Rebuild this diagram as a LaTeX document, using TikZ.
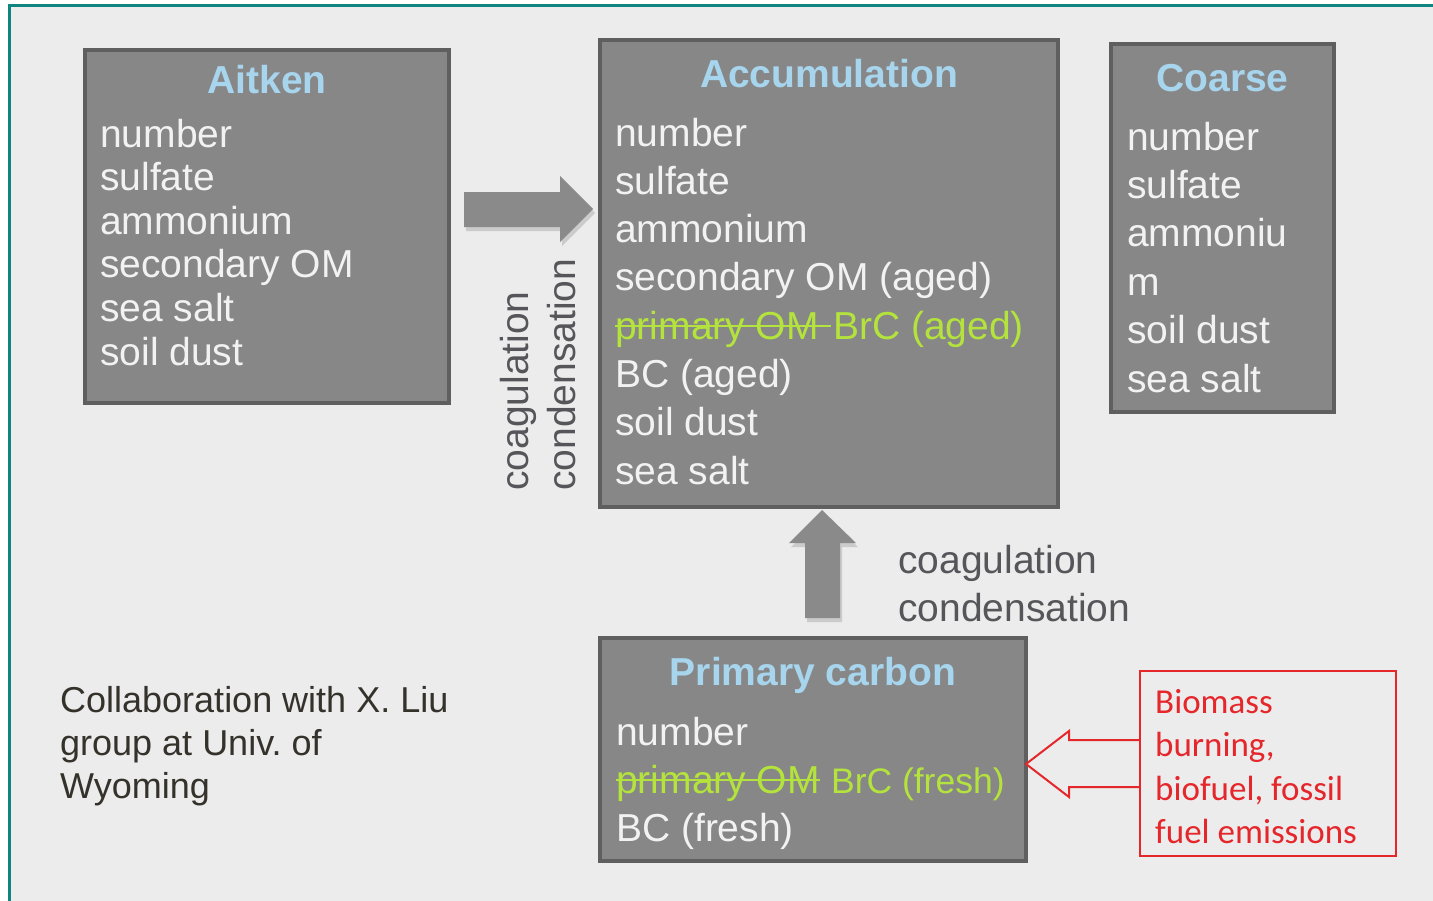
\documentclass[tikz,border=0pt]{standalone}
\usepackage{fontspec}
\setmainfont{Liberation Sans}
\newfontfamily\carl{Carlito}
\usetikzlibrary{shadows}
\frenchspacing
\definecolor{bgc}{HTML}{ECECEC}
\definecolor{framec}{HTML}{0E857E}
\definecolor{boxfill}{HTML}{878787}
\definecolor{boxline}{HTML}{5F5F5F}
\definecolor{boxtext}{HTML}{F2F2F2}
\definecolor{titleblue}{HTML}{A8D5EE}
\definecolor{limec}{HTML}{B3E33C}
\definecolor{darkt}{HTML}{55555A}
\definecolor{notec}{HTML}{35322C}
\definecolor{redc}{HTML}{E5262B}
\definecolor{arrowc}{HTML}{8A8A8A}
\begin{document}
\begin{tikzpicture}[x=1pt,y=-1pt,
  box/.style={draw=boxline, line width=4pt, fill=boxfill, inner sep=0pt, outer sep=0pt, anchor=north west},
  txt/.style={anchor=base west, inner sep=0pt, text=boxtext, font=\fontsize{39}{44}\selectfont},
  ttl/.style={anchor=base, inner sep=0pt, text=titleblue, font=\bfseries\fontsize{39}{44}\selectfont},
  lab/.style={anchor=base west, inner sep=0pt, text=darkt, font=\fontsize{39}{44}\selectfont},
  note/.style={anchor=base west, inner sep=0pt, text=notec, font=\fontsize{36}{43}\selectfont},
  redtxt/.style={anchor=base west, inner sep=0pt, text=redc, font=\carl\fontsize{35}{43}\selectfont},
  strike/.style={draw=limec, line width=2pt},
  blockarrow/.style={fill=arrowc, drop shadow={opacity=0.3, shadow xshift=2pt, shadow yshift=-4pt}}
]
\useasboundingbox (0,0) rectangle (1433,900);
\fill[white] (0,0) rectangle (1433,900);
\begin{scope}
\clip (0,0) rectangle (1433,900);
\draw[framec, line width=3pt, fill=bgc] (9,5) rectangle (1460,930);
\end{scope}

% Aitken
\node[box, minimum width=364pt, minimum height=353pt] (ait) at (85,50) {};
\node[ttl] (aitT) at (267,93) {Aitken};
\foreach \t [count=\i] in {number, sulfate, ammonium, secondary OM, sea salt, soil dust}
  \node[txt] (ait-\i) at (100,{147+43.6*(\i-1)}) {\t};

% Accumulation
\node[box, minimum width=458pt, minimum height=467pt] (acc) at (600,40) {};
\node[ttl] (accT) at (829,87) {Accumulation};
\node[txt] (acc-1) at (615,146) {number};
\node[txt] (acc-2) at (615,194.3) {sulfate};
\node[txt] (acc-3) at (615,242.6) {ammonium};
\node[txt] (acc-4) at (615,290.9) {secondary OM (aged)};
\node[txt, text=limec] (acc-5a) at (615,339.2) {primary OM};
\node[txt, text=limec] (acc-5b) at ([xshift=14pt]acc-5a.base east) {BrC (aged)};
\path[strike] ([yshift=13pt]acc-5a.base west) -- ([xshift=-2pt,yshift=13pt]acc-5b.base west);
\node[txt] (acc-6) at (615,387.5) {BC (aged)};
\node[txt] (acc-7) at (615,435.8) {soil dust};
\node[txt] (acc-8) at (615,484.1) {sea salt};

% Coarse
\node[box, minimum width=223pt, minimum height=368pt] (coa) at (1111,44) {};
\node[ttl] (coaT) at (1222.5,91) {Coarse};
\foreach \t [count=\i] in {number, sulfate, ammoniu, m, soil dust, sea salt}
  \node[txt] (coa-\i) at (1127,{150+48.4*(\i-1)}) {\t};

% Primary carbon
\node[box, minimum width=426pt, minimum height=223pt] (pri) at (600,638) {};
\node[ttl] (priT) at (813,685) {Primary carbon};
\node[txt] (pri-1) at (616,745) {number};
\node[txt, text=limec] (pri-2a) at (616,793) {primary OM};
\node[txt, text=limec, font=\fontsize{35.5}{44}\selectfont] (pri-2b) at ([xshift=10.8pt]pri-2a.base east) {BrC (fresh)};
\path[strike] ([yshift=13pt]pri-2a.base west) -- ([yshift=13pt]pri-2a.base east);
\node[txt] (pri-3) at (616,841) {BC (fresh)};

% block arrows
\path[blockarrow] (464,192) -- (560,192) -- (560,176) -- (593,209) -- (560,242) -- (560,227) -- (464,227) -- cycle;
\path[blockarrow] (805,618) -- (805,543) -- (789,543) -- (822,510) -- (856,543) -- (840,543) -- (840,618) -- cycle;

% process labels
\node[lab, rotate=90] (rot1) at (528,491) {coagulation};
\node[lab, rotate=90] (rot2) at (575,491) {condensation};
\node[lab] (up1) at (898,573) {coagulation};
\node[lab] (up2) at (898,621) {condensation};

% note
\node[note] (n1) at (60,712) {Collaboration with X. Liu};
\node[note] (n2) at (60,755) {group at Univ. of};
\node[note] (n3) at (60,798) {Wyoming};

% emissions source
\node[draw=redc, line width=2pt, inner sep=0pt, outer sep=0pt, minimum width=256pt, minimum height=185pt, anchor=north west] (src) at (1140,671) {};
\node[redtxt] (s1) at (1155,713) {Biomass};
\node[redtxt] (s2) at (1155,756.5) {burning,};
\node[redtxt] (s3) at (1155,800) {biofuel, fossil};
\node[redtxt] (s4) at (1155,843.5) {fuel emissions};
\draw[redc, line width=2pt, line join=miter] (src.west |- 0,740) -- (1069,740) -- (1069,731) -- (1026,764) -- (1069,797) -- (1069,787) -- (src.west |- 0,787);
\end{tikzpicture}
\end{document}
